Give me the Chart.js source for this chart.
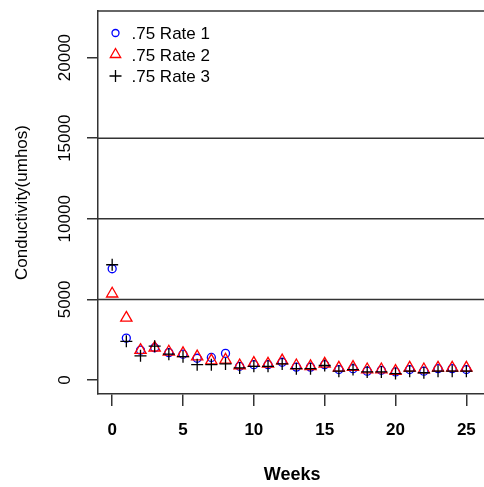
<!DOCTYPE html>
<html>
<head>
<meta charset="utf-8">
<script src="https://cdn.jsdelivr.net/npm/chart.js@4/dist/chart.umd.min.js"></script>
<style>
  body { margin: 0; background: #fff; }
  #wrap { width: 484px; height: 487px; overflow: hidden; }
  #myChart { display: block; }
</style>
</head>
<body>
<!-- canvas is a bit wider than the window: the plot box runs off the right edge, as in the original -->
<div id="wrap"><canvas id="myChart" width="494" height="487"></canvas></div>
<script>
const weeks = [0, 1, 2, 3, 4, 5, 6, 7, 8, 9, 10, 11, 12, 13, 14, 15, 16, 17, 18, 19, 20, 21, 22, 23, 24, 25];
const rate1 = [6900, 2600, 1850, 2000, 1700, 1600, 1350, 1400, 1650, 850, 950, 950, 1100, 800, 800, 950, 650, 700, 550, 600, 500, 650, 550, 700, 700, 650];
const rate2 = [5350, 3850, 1850, 2000, 1750, 1650, 1450, 1200, 1250, 900, 1050, 1000, 1200, 900, 850, 1000, 750, 800, 650, 650, 550, 750, 650, 750, 750, 750];
const rate3 = [7150, 2400, 1500, 2100, 1600, 1450, 950, 950, 1000, 750, 850, 850, 1000, 700, 700, 900, 550, 650, 500, 500, 400, 550, 450, 550, 550, 550];
const seriesNames = [".75 Rate 1", ".75 Rate 2", ".75 Rate 3"];
const refLines = [5000, 10000, 15000];
const xTicks = [0, 5, 10, 15, 20, 25];
const yTicks = [0, 5000, 10000, 15000, 20000];

const FONT = "'Liberation Sans', Arial, sans-serif";

function toPoints(values) {
  return weeks.map((w, i) => ({ x: w, y: values[i] }));
}

// top box edge, abline() style reference lines and the in-plot legend
const extras = {
  id: "extras",
  beforeDatasetsDraw(chart) {
    const { ctx, chartArea } = chart;
    const yScale = chart.scales.y;
    ctx.save();
    ctx.strokeStyle = "#333";
    ctx.lineWidth = 1.5;
    refLines.forEach((v) => {
      const py = yScale.getPixelForValue(v);
      ctx.beginPath();
      ctx.moveTo(chartArea.left, py);
      ctx.lineTo(chartArea.right, py);
      ctx.stroke();
    });
    ctx.beginPath();
    ctx.moveTo(chartArea.left, chartArea.top);
    ctx.lineTo(chartArea.right, chartArea.top);
    ctx.stroke();
    ctx.restore();
  },
  afterDraw(chart) {
    const { ctx, chartArea } = chart;
    const sets = chart.data.datasets.slice().sort((a, b) => a.legendIndex - b.legendIndex);
    ctx.save();
    sets.forEach((ds, i) => {
      const cx = chartArea.left + 17.5;
      const cy = chartArea.top + 22 + i * 21.5;
      ctx.strokeStyle = ds.borderColor;
      ctx.fillStyle = "rgba(0,0,0,0)";
      ctx.lineWidth = ds.borderWidth;
      Chart.helpers.drawPoint(ctx, {
        pointStyle: ds.pointStyle,
        radius: ds.legendRadius,
        borderWidth: ds.borderWidth,
        rotation: 0,
      }, cx, cy);
      ctx.fillStyle = "#000";
      ctx.font = "17px " + FONT;
      ctx.textBaseline = "middle";
      ctx.textAlign = "left";
      ctx.fillText(ds.label, chartArea.left + 33.5, cy + 1.5);
    });
    ctx.restore();
  },
};

const ctx = document.getElementById("myChart");
window.chart = new Chart(ctx, {
  type: "scatter",
  data: {
    datasets: [
      {
        label: seriesNames[2],
        data: toPoints(rate3),
        pointStyle: "cross",
        pointRadius: 6,
        borderColor: "#000",
        backgroundColor: "#000",
        borderWidth: 1.3,
        legendRadius: 6,
        legendIndex: 2,
        order: 0,
      },
      {
        label: seriesNames[1],
        data: toPoints(rate2),
        pointStyle: "triangle",
        pointRadius: 6.5,
        borderColor: "#ff0000",
        backgroundColor: "rgba(0,0,0,0)",
        borderWidth: 1.3,
        legendRadius: 6,
        legendIndex: 1,
        order: 1,
      },
      {
        label: seriesNames[0],
        data: toPoints(rate1),
        pointStyle: "circle",
        pointRadius: 4,
        borderColor: "#0000ff",
        backgroundColor: "rgba(0,0,0,0)",
        borderWidth: 1.3,
        legendRadius: 3.5,
        legendIndex: 0,
        order: 2,
      },
    ],
  },
  options: {
    responsive: false,
    animation: false,
    events: [],
    layout: { padding: { top: 11, right: 0, left: 0, bottom: 0 } },
    plugins: {
      legend: { display: false },
      tooltip: { enabled: false },
      title: { display: false },
    },
    scales: {
      x: {
        type: "linear",
        min: -1,
        max: 26.4,
        afterFit(scale) {
          scale.height = 93;
        },
        afterBuildTicks(scale) {
          scale.ticks = xTicks.map((v) => ({ value: v }));
        },
        border: { display: true, color: "#333", width: 1.5 },
        grid: { drawOnChartArea: false, drawTicks: true, tickLength: 12, color: "#333", lineWidth: 1.5 },
        ticks: {
          color: "#000",
          padding: 14,
          maxRotation: 0,
          autoSkip: false,
          callback: (v) => String(v),
          font: { family: FONT, size: 17, weight: "bold" },
        },
        title: {
          display: true,
          text: "Weeks",
          color: "#000",
          padding: { top: 0, bottom: 1 },
          font: { family: FONT, size: 18, weight: "bold" },
        },
      },
      y: {
        type: "linear",
        min: -868,
        max: 22890,
        afterFit(scale) {
          scale.width = 98;
        },
        afterBuildTicks(scale) {
          scale.ticks = yTicks.map((v) => ({ value: v }));
        },
        border: { display: true, color: "#333", width: 1.5 },
        grid: { drawOnChartArea: false, drawTicks: true, tickLength: 11, color: "#333", lineWidth: 1.5 },
        ticks: {
          color: "#000",
          padding: -2,
          minRotation: 90,
          maxRotation: 90,
          crossAlign: "center",
          autoSkip: false,
          callback: (v) => String(v),
          font: { family: FONT, size: 17 },
        },
        title: {
          display: true,
          text: "Conductivity(umhos)",
          color: "#000",
          padding: { top: 12.5, bottom: 0 },
          font: { family: FONT, size: 17 },
        },
      },
    },
  },
  plugins: [extras],
});
</script>
</body>
</html>
